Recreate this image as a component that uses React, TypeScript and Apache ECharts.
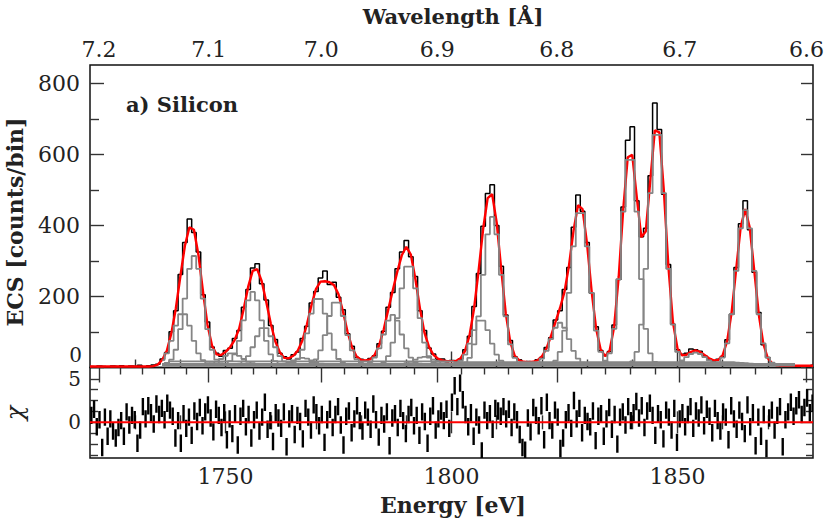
import React, { useEffect, useRef } from "react";
import * as echarts from "echarts";

// ---------- data ----------
const HC = 12398.42; // eV * Angstrom
const E_MIN = 1720;
const E_MAX = 1880;

// 1-eV bins, first bin centred on 1720 eV
const binStart = 1720;
const counts = [
  3, 2, 4, 3, 1, 4, 3, 5, 2, 4,
  3, 6, 2, 5, 7, 9, 24, 42, 101, 160,
  262, 352, 418, 380, 325, 205, 128, 58, 40, 32,
  48, 54, 82, 104, 170, 220, 280, 292, 236, 190,
  118, 79, 40, 30, 24, 36, 44, 82, 116, 182,
  214, 252, 272, 234, 240, 198, 163, 95, 60, 28,
  23, 18, 25, 33, 67, 102, 170, 211, 278, 325,
  358, 312, 256, 160, 104, 55, 38, 22, 24, 16,
  20, 19, 24, 50, 88, 172, 265, 398, 490, 515,
  400, 285, 148, 76, 30, 22, 14, 17, 15, 22,
  28, 56, 84, 134, 160, 220, 282, 395, 486, 440,
  352, 210, 115, 48, 34, 45, 120, 248, 452, 640,
  678, 470, 368, 392, 540, 745, 670, 488, 290, 122,
  50, 37, 40, 52, 50, 46, 33, 24, 18, 23,
  31, 78, 150, 282, 405, 470, 388, 268, 155, 64,
  28, 12, 8, 5, 4, 6, 3, 5, 4, 2,
  6,
];

const continuum = [
  3, 3, 3, 3, 3, 3, 3, 3, 3, 3,
  3, 3, 3, 3, 3, 5, 9, 13, 17, 17,
  17, 17, 17, 17, 17, 17, 17, 17, 17, 17,
  17, 17, 17, 17, 17, 17, 17, 17, 17, 17,
  17, 17, 17, 17, 17, 17, 17, 17, 17, 17,
  17, 17, 17, 17, 17, 17, 17, 17, 17, 17,
  17, 17, 17, 17, 17, 17, 17, 17, 17, 17,
  17, 17, 17, 17, 17, 17, 17, 17, 17, 17,
  17, 15, 15, 15, 15, 15, 15, 15, 15, 15,
  15, 15, 15, 15, 15, 15, 15, 15, 15, 15,
  15, 15, 15, 15, 15, 15, 15, 15, 15, 15,
  15, 15, 15, 15, 15, 15, 15, 15, 15, 15,
  15, 15, 15, 15, 15, 15, 15, 15, 15, 15,
  15, 15, 15, 15, 15, 15, 15, 15, 15, 15,
  15, 15, 15, 14, 13, 12, 11, 10, 9, 8,
  7, 6, 5, 5, 5, 5, 5, 5, 5, 5,
  5,
];

// line components: first bin energy and counts per 1-eV bin
const componentStart = [
  1734, 1736, 1746, 1750, 1752, 1762, 1764, 1768, 1781, 1784,
  1789, 1800, 1802, 1818, 1822, 1833, 1839, 1849, 1858,
];
const componentValues = [
  [1, 3, 12, 31, 66, 109, 141, 141, 109, 66, 31, 12, 3, 1],
  [1, 3, 13, 41, 99, 185, 269, 305, 269, 185, 99, 41, 13, 3, 1],
  [1, 3, 7, 15, 24, 31, 31, 24, 15, 7, 3, 1],
  [2, 9, 28, 66, 124, 180, 204, 180, 124, 66, 28, 9, 2],
  [1, 2, 8, 23, 48, 79, 102, 102, 79, 48, 23, 8, 2, 1],
  [1, 2, 6, 11, 16, 18, 16, 11, 6, 2, 1],
  [1, 4, 15, 41, 87, 143, 184, 184, 143, 87, 41, 15, 4, 1],
  [1, 4, 14, 39, 82, 136, 174, 174, 136, 82, 39, 14, 4, 1],
  [2, 6, 19, 45, 84, 123, 139, 123, 84, 45, 19, 6, 2],
  [1, 6, 23, 61, 130, 214, 275, 275, 214, 130, 61, 23, 6, 1],
  [1, 3, 7, 13, 19, 21, 19, 13, 7, 3, 1],
  [1, 3, 10, 27, 58, 96, 123, 123, 96, 58, 27, 10, 3, 1],
  [1, 5, 18, 56, 135, 252, 366, 415, 366, 252, 135, 56, 18, 5, 1],
  [1, 5, 16, 38, 71, 103, 117, 103, 71, 38, 16, 5, 1],
  [2, 10, 35, 95, 201, 332, 426, 426, 332, 201, 95, 35, 10, 2],
  [1, 7, 31, 100, 240, 430, 576, 576, 430, 240, 100, 31, 7, 1],
  [1, 8, 35, 112, 269, 482, 646, 646, 482, 269, 112, 35, 8, 1],
  [1, 4, 11, 20, 29, 33, 29, 20, 11, 4, 1],
  [1, 5, 19, 59, 141, 263, 383, 434, 383, 263, 141, 59, 19, 5, 1],
];
const componentBase = 9; // level the grey components are drawn on
const componentFrom = 1736;
const componentTo = 1876;

// residuals, 0.6-eV bins starting at 1720.3 eV
const residualStart = 1720.3;
const residualStep = 0.6;
const residuals = [
  0.8, 1.5, -0.5, 0.3, -2.9, 0.6, -1.6, 0.4, -1.0, -1.8,
  -0.6, 0.2, -1.6, 1.2, -0.3, 0.8, 0.3, -2.4, -0.9, 1.8,
  0.4, 1.9, 1.1, -0.2, 2.1, 0.9, 1.6, 0.3, 2.2, 1.4,
  0.7, -1.8, 0.2, -2.4, 1.0, -0.7, 0.6, -1.5, 1.3, 0.1,
  1.7, -0.4, 1.2, 2.0, 0.5, -1.1, 1.5, 0.8, -0.6, 1.1,
  -2.0, 0.4, -1.3, 1.0, -2.6, 0.7, 1.6, -0.5, 0.9, -1.8,
  0.3, 1.4, -1.0, 0.6, 2.3, -0.8, 0.2, -2.2, 1.1, 0.5,
  -0.7, 1.2, -2.8, 0.4, 1.0, -1.4, 0.8, 0.1, -1.9, 1.6,
  0.6, -0.9, 2.0, 1.1, -0.4, 0.9, -2.3, 0.3, 1.5, -0.6,
  0.9, 1.8, -0.3, -2.6, 0.7, 1.3, -1.2, 0.4, 1.9, 0.2,
  -1.0, 1.4, 0.6, -0.8, 2.1, 0.3, -1.7, 0.8, -0.2, 1.2,
  -2.7, 0.5, 1.0, -0.6, 1.6, 0.2, -1.3, 0.9, 1.7, -0.4,
  0.8, -1.5, 1.2, 0.1, -2.4, 0.7, 1.9, -0.9, 0.4, 1.3,
  0.2, 1.5, -0.7, 2.3, 4.2, 1.8, 4.5, 2.6, 0.9, -0.5,
  1.1, -1.6, 0.6, -0.3, -3.3, 1.4, 0.2, 1.0, -0.8, 1.6,
  1.3, 0.7, 1.8, 0.4, 1.5, -0.6, 1.2, 0.3, -1.4, -2.9,
  -3.2, 0.5, -1.1, 1.7, 0.8, -0.4, 1.9, -2.0, 2.3, 0.2,
  -0.9, 1.4, 0.6, -3.0, -1.8, 0.3, 1.1, -0.7, 2.5, 0.4,
  1.6, -1.2, 0.8, 0.1, -0.5, 1.3, -2.1, 0.7, 1.0, -1.6,
  0.4, 1.7, -0.8, 0.9, -2.5, 0.6, 1.2, -0.3, 1.8, 0.2,
  1.1, 2.4, 0.5, 1.9, -0.6, 1.3, 2.2, 0.8, -1.5, 1.0,
  0.3, -1.9, 1.4, 0.6, -0.9, 1.6, -2.3, 0.4, 1.1, -0.5,
  0.9, 1.8, -0.7, 1.3, 0.5, 2.0, -0.4, 1.5, 0.7, -1.2,
  1.6, 0.2, -1.0, 1.2, 0.6, -2.0, 1.9, 0.4, -0.8, 1.4,
  0.1, -1.3, 2.0, -0.5, 1.1, -2.7, 0.6, -1.6, 0.9, -3.0,
  0.5, 1.4, -0.9, 0.8, 1.8, -2.8, 0.3, 1.2, 2.3, 0.7,
  1.9, 2.6, 0.9, 1.7, 2.8, 1.1, 2.2,
];

// ticks
const energyMajorTicks = [1750, 1800, 1850];
const energyMinorTicks = [1730, 1740, 1760, 1770, 1780, 1790, 1810, 1820, 1830, 1840, 1860, 1870];
const wavelengthMajorTicks = [7.2, 7.1, 7.0, 6.9, 6.8, 6.7, 6.6];
const wavelengthMinorTicks = [
  7.18, 7.16, 7.14, 7.12, 7.08, 7.06, 7.04, 7.02, 6.98, 6.96, 6.94, 6.92,
  6.88, 6.86, 6.84, 6.82, 6.78, 6.76, 6.74, 6.72, 6.68, 6.66, 6.64, 6.62,
];
const countsMajorTicks = [0, 200, 400, 600, 800];
const countsMinorTicks = [100, 300, 500, 700];
const chiMajorTicks = [0, 5];
const chiMinorTicks = [-3.75, -2.5, -1.25, 1.25, 2.5, 3.75];

const COUNTS_MAX = 852;
const CHI_MIN = -4.1;
const CHI_MAX = 6.3;

// ---------- chart ----------
const FONT = '"DejaVu Serif", serif';
const labelFont = { fontFamily: FONT, fontSize: 22, lineHeight: 20, color: "#222" };
const tickLine = { color: "#333", width: 1.4 };

function xAx(gridIndex: number, position: string, ticks: number[], length: number, label?: any) {
  return {
    type: "value",
    gridIndex,
    position,
    min: E_MIN,
    max: E_MAX,
    axisLine: { show: false },
    splitLine: { show: false },
    axisTick: { show: ticks.length > 0, inside: true, length, customValues: ticks, lineStyle: tickLine },
    axisLabel: label
      ? { show: true, customValues: label.values, formatter: label.formatter, margin: label.margin, ...labelFont }
      : { show: false },
  };
}

function yAx(gridIndex: number, position: string, min: number, max: number, ticks: number[], length: number, label?: any) {
  return {
    type: "value",
    gridIndex,
    position,
    min,
    max,
    axisLine: { show: false },
    splitLine: { show: false },
    axisTick: { show: ticks.length > 0, inside: true, length, customValues: ticks.length ? ticks : undefined, lineStyle: tickLine },
    axisLabel: label
      ? {
          show: true,
          customValues: label.values,
          formatter: (v: number) => String(v),
          margin: label.margin,
          verticalAlign: label.verticalAlign,
          ...labelFont,
          fontSize: label.fontSize || labelFont.fontSize,
          lineHeight: label.lineHeight || labelFont.lineHeight,
          padding: label.padding || 0,
        }
      : { show: false },
  };
}

function buildOption() {
  const binEnergy = (i: number) => binStart + i;
  const componentAt = (c: number, e: number) => {
    const k = e - componentStart[c];
    return k >= 0 && k < componentValues[c].length ? componentValues[c][k] : 0;
  };
  const model = continuum.map((b, i) => {
    let s = b;
    for (let c = 0; c < componentStart.length; c++) s += componentAt(c, binEnergy(i));
    return [binEnergy(i), s];
  });
  const wlMajorE = wavelengthMajorTicks.map((l) => HC / l);
  const wlMinorE = wavelengthMinorTicks.map((l) => HC / l);

  const componentSeries = componentStart.map((_, c) => {
    const pts: number[][] = [];
    for (let e = componentFrom; e <= componentTo; e++) pts.push([e, componentBase + componentAt(c, e)]);
    return {
      type: "line",
      xAxisIndex: 0,
      yAxisIndex: 0,
      data: pts,
      step: "middle",
      symbol: "none",
      lineStyle: { color: "#858585", width: 1.8 },
      z: 4,
      silent: true,
    };
  });

  return {
    animation: false,
    backgroundColor: "#fff",
    grid: [
      { left: 90, right: 17, top: 65, height: 302.5, show: true, borderColor: "#111", borderWidth: 1.5, outerBoundsMode: "none" },
      { left: 90, right: 17, top: 367.5, height: 90.5, show: true, borderColor: "#111", borderWidth: 1.5, outerBoundsMode: "none" },
    ],
    xAxis: [
      xAx(0, "bottom", energyMajorTicks, 16),
      xAx(0, "bottom", energyMinorTicks, 8),
      xAx(0, "top", wlMajorE, 15, { values: wlMajorE, formatter: (v: number) => (HC / v).toFixed(1), margin: 6 }),
      xAx(0, "top", wlMinorE, 7),
      xAx(1, "bottom", energyMajorTicks, 11, { values: energyMajorTicks, formatter: (v: number) => String(v), margin: 8 }),
      xAx(1, "bottom", energyMinorTicks, 7),
      xAx(1, "top", energyMajorTicks, 11),
      xAx(1, "top", energyMinorTicks, 7),
    ],
    yAxis: [
      yAx(0, "left", 0, COUNTS_MAX, countsMajorTicks, 14, { values: countsMajorTicks.filter((v) => v > 0), margin: 10 }),
      yAx(0, "left", 0, COUNTS_MAX, [], 0, {
        values: [0],
        margin: 8,
        verticalAlign: "bottom",
        fontSize: 20,
        lineHeight: 18,
        padding: [0, 0, 4, 0],
      }),
      yAx(0, "left", 0, COUNTS_MAX, countsMinorTicks, 9),
      yAx(0, "right", 0, COUNTS_MAX, countsMajorTicks, 12),
      yAx(0, "right", 0, COUNTS_MAX, countsMinorTicks, 7),
      yAx(1, "left", CHI_MIN, CHI_MAX, chiMajorTicks, 10, { values: chiMajorTicks, margin: 9, fontSize: 20, lineHeight: 18 }),
      yAx(1, "left", CHI_MIN, CHI_MAX, chiMinorTicks, 8),
      yAx(1, "right", CHI_MIN, CHI_MAX, chiMajorTicks, 10),
      yAx(1, "right", CHI_MIN, CHI_MAX, chiMinorTicks, 7),
    ],
    series: [
      {
        type: "line",
        name: "data",
        xAxisIndex: 0,
        yAxisIndex: 0,
        data: counts.map((v, i) => [binEnergy(i), v]),
        step: "middle",
        symbol: "none",
        lineStyle: { color: "#000", width: 1.5 },
        z: 2,
        silent: true,
      },
      {
        type: "line",
        name: "continuum",
        xAxisIndex: 0,
        yAxisIndex: 0,
        data: continuum.map((v, i) => [binEnergy(i), v]).filter((p) => p[0] >= componentFrom && p[0] <= componentTo),
        step: "middle",
        symbol: "none",
        lineStyle: { color: "#858585", width: 1.8 },
        z: 4,
        silent: true,
      },
      {
        type: "line",
        name: "model",
        xAxisIndex: 0,
        yAxisIndex: 0,
        data: model,
        symbol: "none",
        lineStyle: { color: "#ff0000", width: 2.4 },
        z: 3,
        silent: true,
      },
      ...componentSeries,
      {
        type: "custom",
        name: "residuals",
        xAxisIndex: 4,
        yAxisIndex: 5,
        clip: true,
        data: residuals.map((v, i) => [residualStart + i * residualStep, v]),
        encode: { x: 0, y: 1 },
        renderItem: (params: any, api: any) => {
          const e = api.value(0);
          const c = api.value(1);
          const lo = api.coord([e, c - 1]);
          const hi = api.coord([e, c + 1]);
          return {
            type: "line",
            shape: { x1: lo[0], y1: lo[1], x2: hi[0], y2: hi[1] },
            style: { stroke: "#000", lineWidth: 2.4 },
          };
        },
        z: 2,
        silent: true,
      },
      {
        type: "line",
        name: "zero",
        xAxisIndex: 4,
        yAxisIndex: 5,
        data: [
          [E_MIN, 0],
          [E_MAX, 0],
        ],
        symbol: "none",
        lineStyle: { color: "#ff0000", width: 2 },
        z: 3,
        silent: true,
      },
    ],
    graphic: [
      {
        type: "text",
        x: 453,
        y: 16,
        style: { text: "Wavelength [Å]", fontFamily: FONT, fontSize: 21, fontWeight: "bold", fill: "#222", align: "center", verticalAlign: "middle" },
      },
      {
        type: "text",
        x: 453,
        y: 505,
        style: { text: "Energy [eV]", fontFamily: FONT, fontSize: 22, fontWeight: "bold", fill: "#222", align: "center", verticalAlign: "middle" },
      },
      {
        type: "text",
        x: 15,
        y: 222,
        rotation: Math.PI / 2,
        style: { text: "ECS [counts/bin]", fontFamily: FONT, fontSize: 22, fontWeight: "bold", fill: "#222", align: "center", verticalAlign: "middle" },
      },
      {
        type: "text",
        x: 15,
        y: 413,
        rotation: Math.PI / 2,
        style: { text: "χ", fontFamily: FONT, fontSize: 24, fontStyle: "italic", fill: "#222", align: "center", verticalAlign: "middle" },
      },
      {
        type: "text",
        x: 126,
        y: 104,
        style: { text: "a) Silicon", fontFamily: FONT, fontSize: 21, fontWeight: "bold", fill: "#222", align: "left", verticalAlign: "middle" },
      },
    ],
  };
}

export default function App() {
  const ref = useRef<HTMLDivElement>(null);
  useEffect(() => {
    const chart = echarts.init(ref.current as HTMLDivElement, null, { renderer: "svg" });
    chart.setOption(buildOption() as any);
    return () => chart.dispose();
  }, []);
  return <div ref={ref} style={{ position: "absolute", left: 0, top: 0, width: 830, height: 520 }} />;
}
